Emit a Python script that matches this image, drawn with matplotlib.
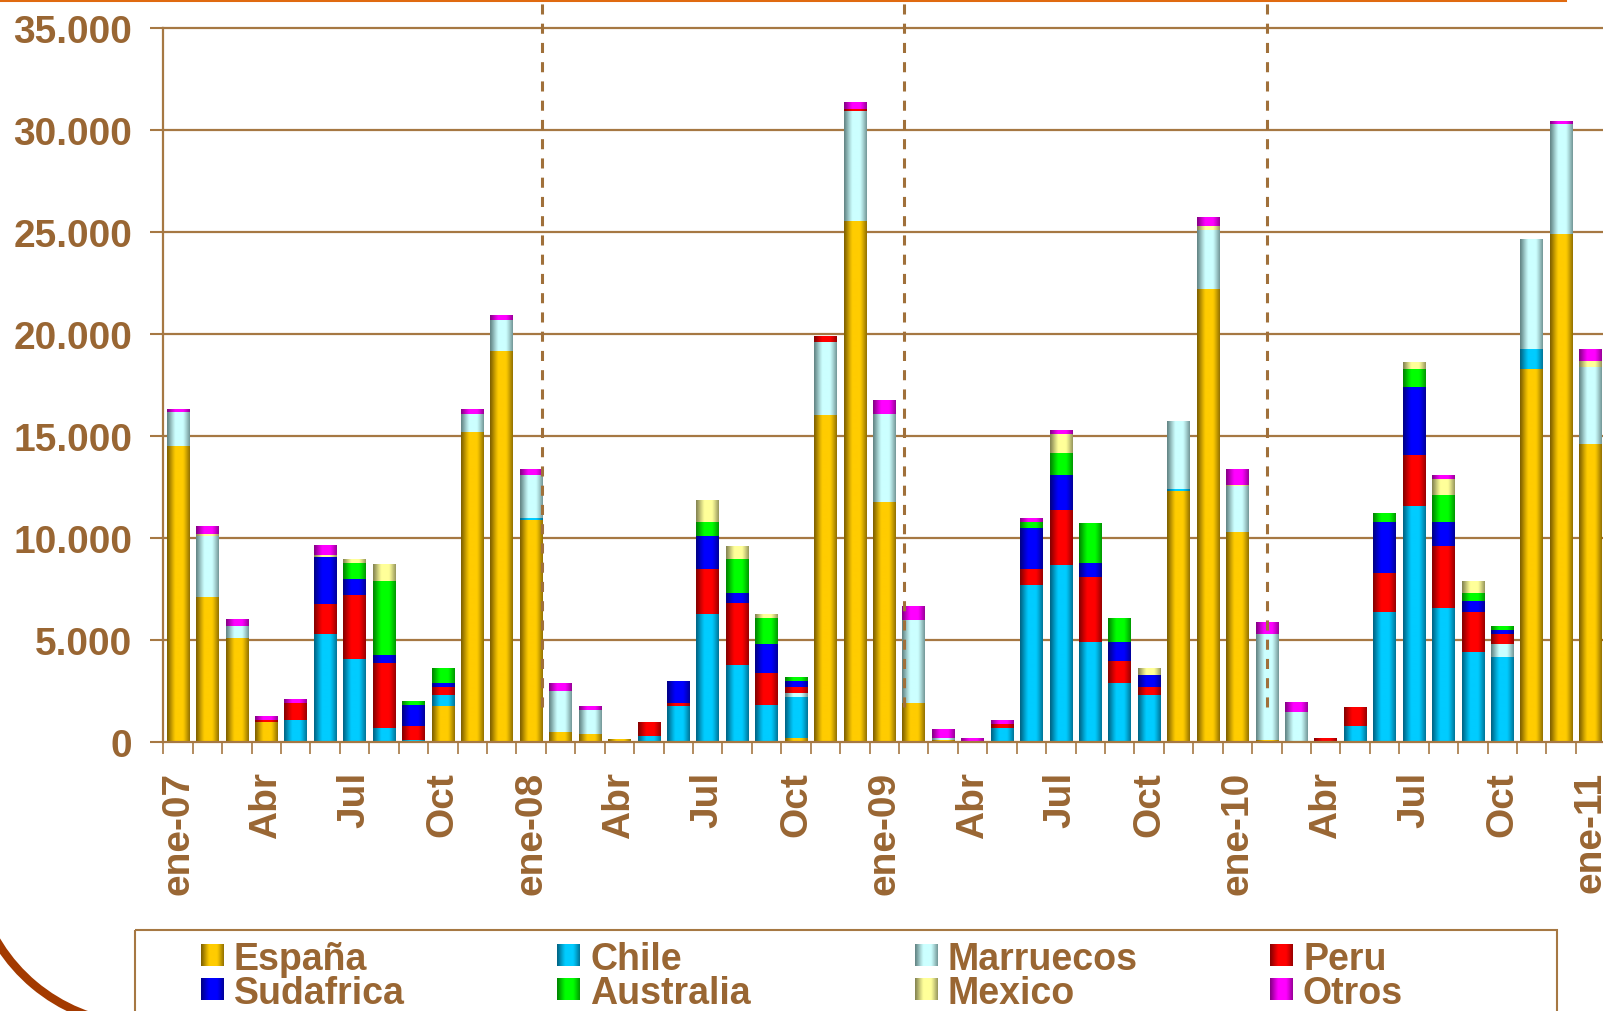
import numpy as np
import matplotlib
matplotlib.use("Agg")
import matplotlib.pyplot as plt
from matplotlib.patches import Rectangle, Arc
from matplotlib.ticker import FuncFormatter

plt.rcParams['font.family'] = ['Liberation Sans', 'DejaVu Sans']
plt.rcParams['font.weight'] = 'bold'

# datos mensuales ene-07 .. ene-11 (toneladas)
etiquetas = ["ene-07", "Abr", "Jul", "Oct", "ene-08", "Abr", "Jul", "Oct",
             "ene-09", "Abr", "Jul", "Oct", "ene-10", "Abr", "Jul", "Oct", "ene-11"]

espana = [14500, 7100, 5100, 980, 0, 0, 0, 0, 0, 1760, 15200, 19150,
          10880, 480, 380, 130, 0, 0, 0, 0, 0, 180, 16030, 25540,
          11780, 1920, 100, 0, 0, 0, 0, 0, 0, 0, 12300, 22190,
          10290, 100, 0, 0, 0, 0, 0, 0, 0, 0, 18270, 24890,
          14610]

chile = [0, 0, 0, 0, 1080, 5290, 4070, 690, 100, 540, 0, 0,
         100, 0, 0, 0, 280, 1750, 6290, 3775, 1810, 2010, 0, 0,
         0, 0, 0, 0, 690, 7700, 8680, 4900, 2890, 2300, 100, 0,
         0, 0, 0, 0, 780, 6370, 11570, 6570, 4410, 4170, 980, 0,
         0]

marruecos = [1680, 3000, 590, 0, 0, 0, 0, 0, 0, 0, 880, 1540,
             2110, 2010, 1170, 0, 0, 0, 0, 0, 0, 200, 3600, 5410,
             4320, 4070, 100, 0, 0, 0, 0, 0, 0, 0, 3330, 2890,
             2250, 5200, 1470, 0, 0, 0, 0, 0, 0, 640, 5390, 5410,
             3780]

peru = [0, 0, 0, 100, 830, 1470, 3140, 3190, 690, 390, 0, 0,
        0, 0, 0, 0, 640, 150, 2200, 3020, 1570, 290, 250, 80,
        0, 0, 0, 0, 200, 780, 2700, 3190, 1080, 390, 0, 0,
        0, 0, 0, 150, 930, 1910, 2500, 3040, 1960, 490, 0, 0,
        0]

sudafrica = [0, 0, 0, 0, 0, 2300, 780, 390, 1030, 200, 0, 0,
             0, 0, 0, 0, 0, 1050, 1600, 520, 1420, 290, 0, 0,
             0, 0, 0, 0, 0, 2010, 1710, 690, 930, 590, 0, 0,
             0, 0, 0, 0, 0, 2500, 3330, 1180, 540, 200, 0, 0,
             0]

australia = [0, 0, 0, 0, 0, 0, 790, 3630, 150, 735, 0, 0,
             0, 0, 0, 0, 0, 0, 690, 1670, 1270, 150, 0, 0,
             0, 0, 0, 0, 0, 290, 1080, 1960, 1130, 0, 0, 0,
             0, 0, 0, 0, 0, 440, 880, 1320, 390, 150, 0, 0,
             0]

mexico = [0, 80, 0, 0, 0, 100, 150, 830, 0, 0, 0, 0,
          0, 0, 0, 0, 0, 0, 1030, 590, 150, 0, 0, 0,
          0, 0, 0, 0, 0, 0, 930, 0, 0, 340, 0, 200,
          50, 0, 0, 0, 0, 0, 340, 780, 540, 0, 0, 0,
          290]

otros = [130, 350, 340, 150, 150, 490, 0, 0, 0, 0, 230, 230,
         250, 350, 150, 0, 0, 0, 0, 0, 0, 0, 0, 330,
         640, 640, 440, 150, 150, 150, 150, 0, 0, 0, 0, 440,
         740, 540, 490, 0, 0, 0, 0, 150, 0, 0, 0, 130,
         540]

series = ["España", "Chile", "Marruecos", "Peru", "Sudafrica", "Australia", "Mexico", "Otros"]
valores = [espana, chile, marruecos, peru, sudafrica, australia, mexico, otros]
# (claro, oscuro) para el efecto cilindro
colores = [("#FFCC00", "#7A5C00"), ("#00CCFF", "#006080"), ("#CCFFFF", "#5F8080"),
           ("#FF0000", "#800000"), ("#0000FF", "#000080"), ("#00FF00", "#008000"),
           ("#FFFF99", "#808050"), ("#FF00FF", "#800080")]

W, H = 1603, 1012
marron = "#996633"
linea = "#A67843"


def hex2rgb(c):
    return np.array([int(c[i:i + 2], 16) / 255 for i in (1, 3, 5)])


t = np.linspace(0, 1, 64)
perfil = np.clip(np.sin(np.pi * (t * 0.9 + 0.02)) * 1.12, 0, 1) ** 1.3


def gradiente(claro, oscuro):
    a, b = hex2rgb(oscuro), hex2rgb(claro)
    return (a[None, :] + (b - a)[None, :] * perfil[:, None])[None, :, :]


fig = plt.figure(figsize=(W / 100, H / 100), dpi=100)
ax = fig.add_axes([163.3 / W, 269 / H, 1442 / W, 714 / H])

x = np.arange(len(espana))
ancho = 0.77
base = np.zeros(len(x))
for nombre, v, (claro, oscuro) in zip(series, valores, colores):
    v = np.array(v, dtype=float)
    barras = ax.bar(x, v, ancho, bottom=base, color=claro, lw=0, zorder=2)
    img = gradiente(claro, oscuro)
    for b in barras:
        if b.get_height() <= 0:
            continue
        x0, y0 = b.get_xy()
        ax.imshow(img, extent=[x0, x0 + b.get_width(), y0, y0 + b.get_height()],
                  aspect="auto", interpolation="bilinear", zorder=2.5)
    base += v

ax.set_xlim(-0.5, len(x) - 0.5)
ax.set_ylim(0, 35000)

# lineas horizontales
for yv in range(5000, 35001, 5000):
    ax.axhline(yv, color=linea, lw=1.6, zorder=1, clip_on=False)

# separadores de campaña
for xv in [12.36, 24.68, 37.01]:
    ax.plot([xv, xv], [1700, 36500], color="#A0703A", lw=2.2,
            linestyle=(0, (3.3, 3.0)), clip_on=False, zorder=4)

ax.spines["top"].set_visible(False)
ax.spines["right"].set_visible(False)
for s in ["left", "bottom"]:
    ax.spines[s].set_color(linea)
    ax.spines[s].set_linewidth(1.6)

ax.set_yticks(range(0, 35001, 5000))
ax.yaxis.set_major_formatter(FuncFormatter(lambda v, p: f"{v:,.0f}".replace(",", ".")))
ax.tick_params(axis="y", direction="out", length=9.4, width=1.5, color=linea,
               labelsize=28, labelcolor=marron, pad=13)

ax.set_xticks(x[::3])
ax.set_xticklabels(etiquetas, rotation=90, va="top", ha="center")
ax.set_xticks(np.arange(len(x) + 1) - 0.5, minor=True)
ax.tick_params(axis="x", which="major", length=0, labelsize=28, labelcolor=marron, pad=21)
ax.tick_params(axis="x", which="minor", direction="out", length=8.6, width=1.2, color=linea)

# capa en pixeles para leyenda y adornos
ov = fig.add_axes([0, 0, 1, 1], zorder=5)
ov.set_xlim(0, W)
ov.set_ylim(H, 0)
ov.axis("off")

ov.plot([0, 1565], [0.8, 0.8], color="#E06A10", lw=2.2)
ov.add_patch(Arc((144.5, 854), 344, 344, theta1=95, theta2=165, color="#A33A00", lw=6))
ov.add_patch(Rectangle((135, 930.7), 1557 - 135, 120, fill=False, ec=linea, lw=1.5, clip_on=False))

tx = [234, 590, 948, 1303]
ty = [970, 1004]
for i, (nombre, (claro, oscuro)) in enumerate(zip(series, colores)):
    xx = tx[i % 4]
    yy = ty[i // 4]
    ov.imshow(gradiente(claro, oscuro), extent=[xx - 33, xx - 10, yy - 3, yy - 25],
              aspect="auto", interpolation="bilinear")
    ov.text(xx, yy, nombre, fontsize=27, color=marron, va="baseline", ha="left")
ov.set_xlim(0, W)
ov.set_ylim(H, 0)

fig.savefig("out.png", dpi=100)
